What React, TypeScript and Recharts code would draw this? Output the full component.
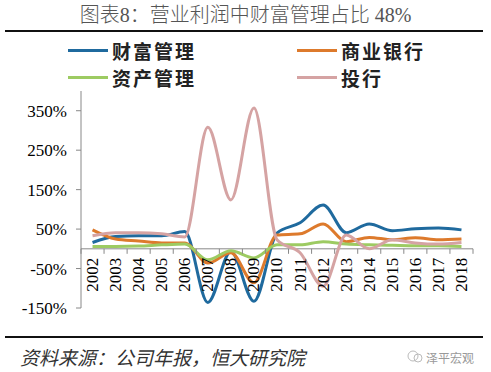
import { LineChart, Line, XAxis, YAxis, ReferenceLine } from 'recharts'

const years = ['2002', '2003', '2004', '2005', '2006', '2007', '2008', '2009', '2010', '2011', '2012', '2013', '2014', '2015', '2016', '2017', '2018']
const wealthMgmt = [16, 31, 33, 33, 44, -136, -7, -133, 40, 66, 111, 41, 63, 46, 51, 53, 48]
const commercialBank = [48, 25, 20, 15, 15, -36, -10, -86, 35, 38, 63, 18, 29, 23, 28, 23, 25]
const assetMgmt = [6, 6, 7, 10, 12, -28, -5, -23, 10, 10, 18, 12, 10, 9, 8, 8, 6]
const investBank = [33, 41, 41, 38, 30, 308, 124, 357, 23, -10, -95, 35, 0, 23, 15, 12, 16]
const yTicks = [-150, -50, 50, 150, 250, 350]

const series = [
  { key: 'wealth', name: '财富管理', color: '#1f6a9e', values: wealthMgmt },
  { key: 'bank', name: '商业银行', color: '#dd7a2c', values: commercialBank },
  { key: 'asset', name: '资产管理', color: '#9dcb62', values: assetMgmt },
  { key: 'ib', name: '投行', color: '#d5a3a3', values: investBank },
]

const data = years.map((year, i) => {
  const row: Record<string, string | number> = { year }
  series.forEach((s) => (row[s.key] = s.values[i]))
  return row
})

const Y_MIN = -150
const Y_MAX = 400
const PLOT_TOP = 91
const PLOT_H = 217
const PLOT_W = 392
const ZERO_Y = PLOT_TOP + ((Y_MAX - 0) / (Y_MAX - Y_MIN)) * PLOT_H
const BAND = PLOT_W / years.length
const serif = "'Liberation Serif', 'Times New Roman', serif"
const cjk = "'Noto Sans CJK SC', sans-serif"

function XTick(props: any) {
  const { x, payload, index } = props
  const ty = ZERO_Y + 9
  return (
    <g>
      {index === 0 && <line x1={x - BAND / 2} x2={x - BAND / 2} y1={ZERO_Y} y2={ZERO_Y + 5} stroke="#888" />}
      <line x1={x + BAND / 2} x2={x + BAND / 2} y1={ZERO_Y} y2={ZERO_Y + 5} stroke="#888" />
      <text
        x={x}
        y={ty}
        transform={`rotate(-90, ${x}, ${ty})`}
        textAnchor="end"
        dominantBaseline="central"
        fontSize={17}
        fontFamily={serif}
        fill="#000"
      >
        {payload.value}
      </text>
    </g>
  )
}

export default function App() {
  return (
    <div style={{ position: 'absolute', left: 0, top: 0, width: 491, height: 372, background: '#fff', overflow: 'hidden' }}>
      <div style={{ position: 'absolute', top: 2, left: 0, width: 491, textAlign: 'center', fontSize: 20, color: '#555', lineHeight: '26px' }}>
        <span style={{ fontFamily: `${serif}, ${cjk}`, fontWeight: 300 }}>图表8：营业利润中财富管理占比 48%</span>
      </div>
      <div style={{ position: 'absolute', top: 30, left: 5, width: 478, height: 2, background: '#111' }} />

      {series.map((s, i) => (
        <div
          key={s.key}
          style={{
            position: 'absolute',
            left: i % 2 === 0 ? 68 : 297,
            top: i < 2 ? 38 : 65,
            height: 24,
            display: 'flex',
            alignItems: 'center',
          }}
        >
          <div style={{ width: 40, height: 3, background: s.color, marginRight: 4 }} />
          <span style={{ fontFamily: cjk, fontWeight: 700, fontSize: 19, color: '#222', letterSpacing: 2 }}>{s.name}</span>
        </div>
      ))}

      <div style={{ position: 'absolute', left: 0, top: 0 }}>
        <LineChart width={491} height={372} data={data} margin={{ top: PLOT_TOP, right: 18, bottom: 54, left: 0 }}>
          <XAxis
            dataKey="year"
            height={10}
            axisLine={false}
            tickLine={false}
            interval={0}
            padding={{ left: BAND / 2, right: BAND / 2 }}
            tick={(p: any) => <XTick {...p} />}
          />
          <YAxis
            width={81}
            domain={[Y_MIN, Y_MAX]}
            ticks={yTicks}
            allowDataOverflow
            tickFormatter={(v: number) => `${v}%`}
            axisLine={{ stroke: '#888' }}
            tickLine={{ stroke: '#888' }}
            tickSize={5}
            tickMargin={9}
            tick={{ fontSize: 17, fontFamily: serif, fill: '#000' }}
          />
          <ReferenceLine y={0} stroke="#888" />
          {series.map((s) => (
            <Line
              key={s.key}
              dataKey={s.key}
              name={s.name}
              type="monotone"
              stroke={s.color}
              strokeWidth={3}
              dot={false}
              isAnimationActive={false}
            />
          ))}
        </LineChart>
      </div>

      <div style={{ position: 'absolute', top: 336, left: 5, width: 478, height: 2, background: '#111' }} />
      <div style={{ position: 'absolute', top: 344, left: 20, fontFamily: cjk, fontStyle: 'italic', fontSize: 19, color: '#333', lineHeight: '26px' }}>
        资料来源：公司年报，恒大研究院
      </div>
      <div style={{ position: 'absolute', top: 349, left: 426, fontFamily: cjk, fontSize: 12, color: '#999' }}>泽平宏观</div>
      <svg style={{ position: 'absolute', top: 350, left: 407 }} width={16} height={14}>
        <circle cx={6} cy={6} r={5} fill="none" stroke="#bbb" />
        <circle cx={11} cy={8} r={4} fill="none" stroke="#bbb" />
      </svg>
    </div>
  )
}
